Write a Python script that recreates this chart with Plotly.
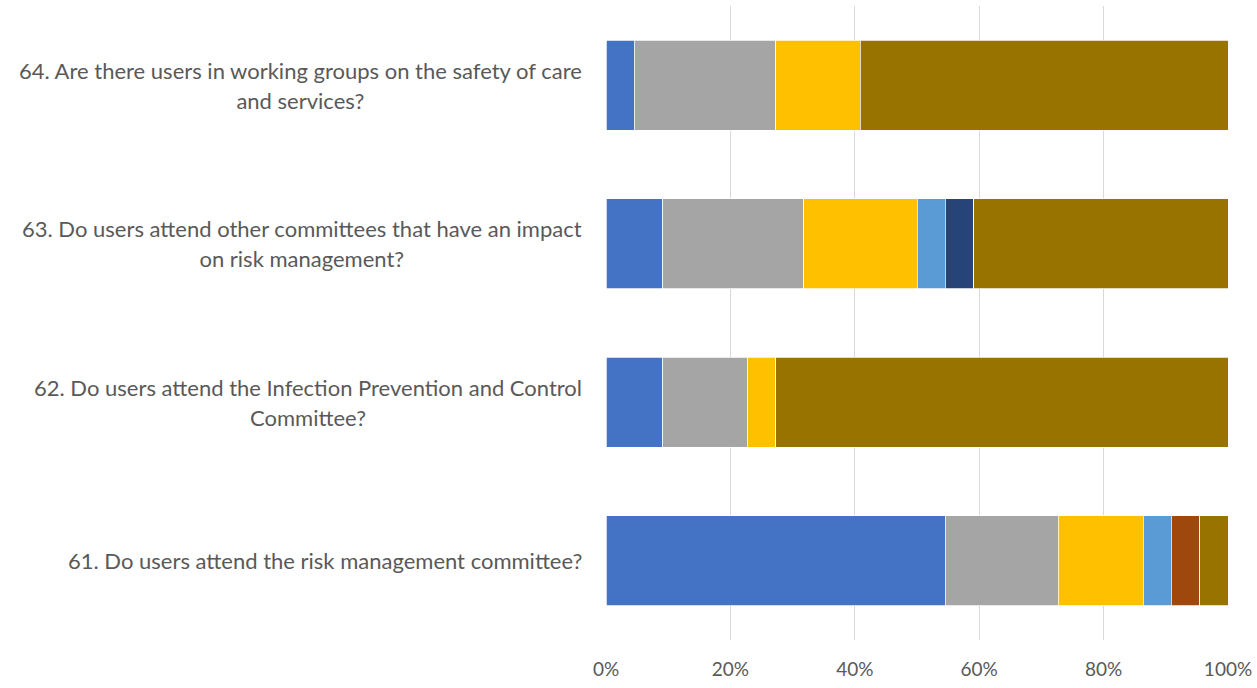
import plotly.graph_objects as go

# Survey questions, bottom to top
questions = [
    "61. Do users attend the risk management committee?",
    "62. Do users attend the Infection Prevention and Control<br>Committee?",
    "63. Do users attend other committees that have an impact<br>on risk management?",
    "64. Are there users in working groups on the safety of care<br>and services?",
]
keys = ["q61", "q62", "q63", "q64"]

# Number of respondents per answer level (22 respondents per question)
level_1 = [12, 2, 2, 1]
level_2 = [4, 3, 5, 5]
level_3 = [3, 1, 4, 3]
level_4 = [1, 0, 1, 0]
level_5 = [0, 0, 1, 0]
level_6 = [1, 0, 0, 0]
level_7 = [1, 16, 9, 13]

tick_values = [0, 20, 40, 60, 80, 100]
tick_labels = ["0%", "20%", "40%", "60%", "80%", "100%"]

series = [
    ("Level 1", level_1, "#4472C4"),
    ("Level 2", level_2, "#A5A5A5"),
    ("Level 3", level_3, "#FFC000"),
    ("Level 4", level_4, "#5B9BD5"),
    ("Level 5", level_5, "#264478"),
    ("Level 6", level_6, "#9E480E"),
    ("Level 7", level_7, "#997300"),
]

FONT = "Lato, 'Open Sans', sans-serif"

fig = go.Figure()
for name, vals, color in series:
    fig.add_trace(go.Bar(
        y=keys, x=vals, name=name, orientation="h",
        marker=dict(color=color, line=dict(color="white", width=0.75)),
        showlegend=False,
    ))

# Category labels: right-aligned block, lines centred within it
for key, text in zip(keys, questions):
    lines = "<br>".join(
        f"<span style='font-size:22px'>{ln}</span>" for ln in text.split("<br>")
    )
    fig.add_annotation(
        x=0, xref="paper", y=key, yref="y",
        xanchor="right", yanchor="middle", xshift=-22,
        text=lines, align="center", showarrow=False,
        font=dict(family=FONT, size=23, color="#595959"),
    )

fig.update_layout(
    barmode="stack", barnorm="percent", bargap=0.43,
    width=1257, height=688,
    margin=dict(l=606, r=29, t=6, b=48, autoexpand=False),
    paper_bgcolor="white", plot_bgcolor="white",
    font=dict(family=FONT, color="#595959", size=19),
    xaxis=dict(
        range=[0, 100], tickvals=tick_values, ticktext=tick_labels,
        showgrid=True, gridcolor="#D9D9D9", gridwidth=1.3,
        zeroline=False, showline=False, ticks="", ticklabelstandoff=16,
        tickfont=dict(family=FONT, size=19, color="#595959"),
    ),
    yaxis=dict(showticklabels=False, showgrid=False, zeroline=False,
               categoryorder="array", categoryarray=keys),
)

fig.write_html("out.html")
